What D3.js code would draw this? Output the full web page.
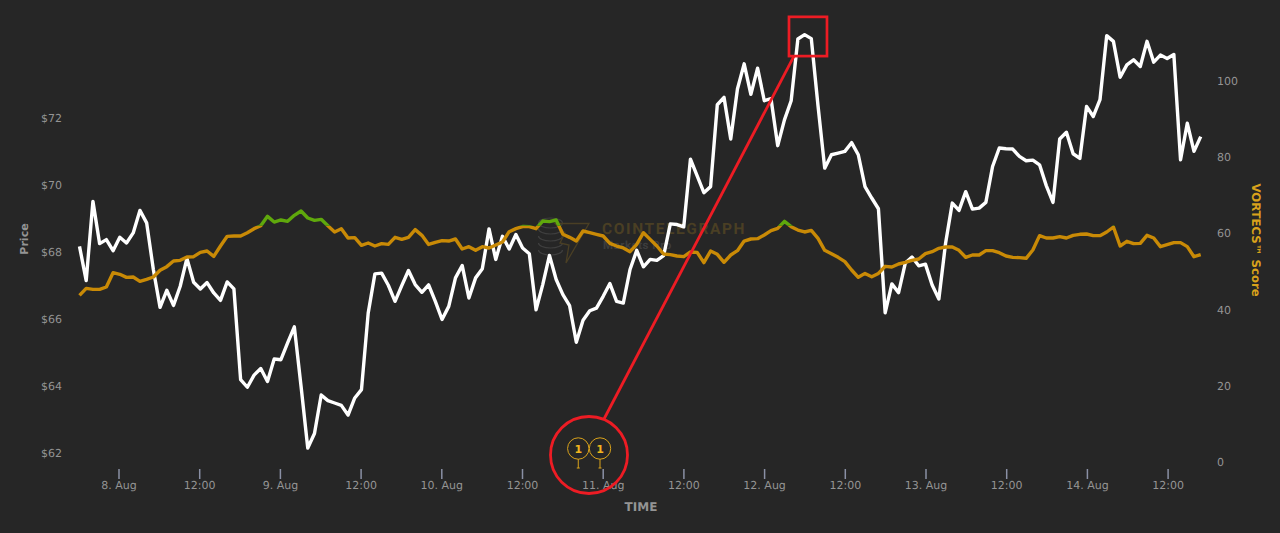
<!DOCTYPE html>
<html><head><meta charset="utf-8">
<script src="https://cdn.jsdelivr.net/npm/d3@7/dist/d3.min.js"></script>
<style>html,body{margin:0;padding:0;background:#262626;overflow:hidden}svg{display:block}svg text{font-family:"DejaVu Sans",sans-serif;text-rendering:geometricPrecision}</style>
</head><body><svg id="c" width="1280" height="533"></svg>
<script>
const priceValues=[68.16,67.14,69.5,68.24,68.36,68.03,68.43,68.26,68.56,69.23,68.86,67.47,66.34,66.85,66.40,66.97,67.80,67.09,66.89,67.08,66.77,66.55,67.10,66.89,64.19,63.96,64.32,64.52,64.13,64.80,64.78,65.28,65.76,63.99,62.15,62.58,63.73,63.56,63.49,63.42,63.13,63.64,63.89,66.17,67.34,67.36,67.0,66.52,66.99,67.44,67.02,66.79,67.01,66.52,65.98,66.37,67.22,67.59,66.62,67.22,67.49,68.68,67.77,68.46,68.08,68.51,68.11,67.94,66.27,67.02,67.89,67.17,66.72,66.39,65.30,65.96,66.24,66.32,66.67,67.05,66.52,66.47,67.47,68.04,67.55,67.77,67.74,67.88,68.83,68.81,68.74,70.76,70.26,69.76,69.94,72.38,72.6,71.36,72.85,73.6,72.69,73.47,72.5,72.56,71.16,71.93,72.5,74.34,74.47,74.35,72.35,70.49,70.89,70.94,70.99,71.25,70.89,69.94,69.6,69.28,66.18,67.04,66.78,67.66,67.84,67.58,67.63,67.01,66.59,68.25,69.45,69.23,69.79,69.27,69.3,69.47,70.54,71.09,71.07,71.06,70.84,70.71,70.73,70.59,69.97,69.47,71.36,71.56,70.92,70.78,72.33,72.03,72.53,74.44,74.27,73.2,73.57,73.72,73.52,74.27,73.65,73.86,73.76,73.88,70.74,71.83,70.99,71.43];
const scoreValues=[43.74,45.58,45.32,45.32,45.93,49.69,49.26,48.47,48.56,47.42,47.94,48.56,50.31,51.27,52.76,52.93,53.81,53.89,55.03,55.38,53.98,56.69,59.23,59.32,59.32,60.19,61.24,62.0,64.48,62.99,63.52,63.17,64.74,65.88,64.04,63.43,63.69,62.0,60.37,61.24,58.79,58.88,56.87,57.48,56.69,57.31,57.13,58.97,58.44,58.97,60.98,59.49,57.1,57.66,58.09,58.0,58.53,55.9,56.52,55.56,56.52,56.17,56.96,57.74,60.45,61.24,61.8,61.77,61.24,63.25,63.08,63.52,59.76,58.97,58.0,60.63,60.19,59.76,59.32,57.39,56.69,56.17,55.2,57.13,60.19,58.44,56.69,54.59,54.42,54.07,53.89,55.12,55.03,52.32,55.38,54.51,52.41,54.33,55.47,58.0,58.53,58.62,59.58,60.72,61.33,63.17,61.77,60.89,60.37,60.8,58.71,55.56,54.68,53.72,52.58,50.39,48.47,49.5,48.64,49.5,51.36,51.18,51.97,52.41,52.93,53.28,54.68,55.21,56.08,56.43,56.43,55.56,53.72,54.33,54.33,55.47,55.47,54.94,54.07,53.72,53.63,53.46,55.64,59.41,58.79,58.79,59.14,58.79,59.49,59.76,59.84,59.41,59.41,60.37,61.68,56.69,57.92,57.31,57.39,59.49,58.79,56.52,57.04,57.57,57.57,56.52,53.89,54.42];
const priceTicks=[62,64,66,68,70,72];
const scoreTicks=[0,20,40,60,80,100];
const timeTicks=["2021-08-08T00:00Z","2021-08-08T12:00Z","2021-08-09T00:00Z","2021-08-09T12:00Z","2021-08-10T00:00Z","2021-08-10T12:00Z","2021-08-11T00:00Z","2021-08-11T12:00Z","2021-08-12T00:00Z","2021-08-12T12:00Z","2021-08-13T00:00Z","2021-08-13T12:00Z","2021-08-14T00:00Z","2021-08-14T12:00Z"].map(d=>new Date(d));
const flagTimes=["2021-08-10T20:22Z","2021-08-10T23:36Z"].map(d=>new Date(d));
const flagLabels=["1","1"];
const startTime=+new Date("2021-08-07T18:12Z");
const stepMinutes=59.9;
const highlightPrice=[73.83,75.0];
const highlightTimes=["2021-08-12T03:42Z","2021-08-12T09:21Z"].map(d=>new Date(d));
const greenThreshold=62;

const svg=d3.select("#c");
const T=i=>new Date(startTime+i*stepMinutes*60000);
const hourPx=161.4/24;
const x=d3.scaleUtc().domain([new Date("2021-08-08T00:00Z"),new Date("2021-08-14T12:00Z")]).range([118.5,118.5+156*hourPx]);
const yP=d3.scaleLinear().domain([62,72]).range([453,117.5]);
const yS=d3.scaleLinear().domain([0,100]).range([462,81]);

// watermark
const wm=svg.append("g");
wm.append("text").attr("x",602).attr("y",234).attr("font-size",15.5).attr("font-weight","bold").style("font-family","Roboto").attr("letter-spacing",1.6).attr("fill","#4a3f24").text("COINTELEGRAPH");
wm.append("text").attr("x",603).attr("y",249).attr("font-size",11.5).attr("font-weight","bold").style("font-family","Roboto").attr("letter-spacing",0.5).attr("fill","#3d3d3d").text("Markets Pro");
[229,236,243,250].forEach(cy=>{
  wm.append("path").attr("d",`M538.5 ${cy} a12 5 0 0 0 24 0`).attr("fill","none").attr("stroke","#3f3f3f").attr("stroke-width",1.2);
});
wm.append("ellipse").attr("cx",550.5).attr("cy",223).attr("rx",12).attr("ry",5).attr("fill","none").attr("stroke","#3f3f3f").attr("stroke-width",1.2);
wm.append("path").attr("d","M555 223.5H589L566 263L569 245L560 243L565 233Z").attr("fill","none").attr("stroke","#4a3f24").attr("stroke-width",1.3);

// axes
const gray="#949494";
const fmtLabel=d=>d.getUTCHours()===12?"12:00":d.getUTCDate()+". Aug";
const xAxis=d3.axisBottom(x).tickValues(timeTicks).tickFormat(fmtLabel).tickSize(10).tickPadding(2);
const gx=svg.append("g").attr("transform","translate(0,469)").call(xAxis);
gx.select(".domain").remove();
gx.selectAll("line").attr("stroke","#8a90a5").attr("stroke-width",1.5);
gx.selectAll("text").attr("fill",gray).attr("font-size",11);
const gl=svg.append("g").attr("transform","translate(62,0)").call(d3.axisLeft(yP).tickValues(priceTicks).tickFormat(d=>"$"+d).tickSize(0).tickPadding(0));
gl.select(".domain").remove();
gl.selectAll("text").attr("fill",gray).attr("font-size",11);
const gr=svg.append("g").attr("transform","translate(1217,0)").call(d3.axisRight(yS).tickValues(scoreTicks).tickSize(0).tickPadding(0));
gr.select(".domain").remove();
gr.selectAll("text").attr("fill",gray).attr("font-size",11);

svg.append("text").attr("transform","translate(27.5,239) rotate(-90)").attr("text-anchor","middle").attr("fill",gray).attr("font-size",11).attr("font-weight","bold").text("Price");
svg.append("text").attr("transform","translate(1252,240) rotate(90)").attr("text-anchor","middle").attr("fill","#d9a21b").attr("font-size",11.7).attr("font-weight","bold").text("VORTECS™ Score");
svg.append("text").attr("x",641).attr("y",511).attr("text-anchor","middle").attr("fill",gray).attr("font-size",12).attr("font-weight","bold").text("TIME");

// lines
const lineP=d3.line().x((d,i)=>x(T(i))).y(d=>yP(d));
const lineS=d3.line().x((d,i)=>x(T(i))).y(d=>yS(d));
const defs=svg.append("defs");
const ty=yS(greenThreshold);
defs.append("clipPath").attr("id","above").append("rect").attr("x",0).attr("y",0).attr("width",1280).attr("height",ty);
defs.append("clipPath").attr("id","below").append("rect").attr("x",0).attr("y",ty).attr("width",1280).attr("height",533-ty);
svg.append("path").attr("d",lineP(priceValues)).attr("fill","none").attr("stroke","#ffffff").attr("stroke-width",3.4).attr("stroke-linejoin","round");
svg.append("path").attr("d",lineS(scoreValues)).attr("fill","none").attr("stroke","#c98a06").attr("stroke-width",3.4).attr("stroke-linejoin","round").attr("clip-path","url(#below)");
svg.append("path").attr("d",lineS(scoreValues)).attr("fill","none").attr("stroke","#5fa80c").attr("stroke-width",3.4).attr("stroke-linejoin","round").attr("clip-path","url(#above)");

// flags
flagTimes.forEach((t,i)=>{
  const g=svg.append("g").attr("transform",`translate(${x(t)},0)`);
  g.append("circle").attr("cy",448.5).attr("r",10.7).attr("fill","none").attr("stroke","#d9a21b").attr("stroke-width",1);
  g.append("text").attr("y",452.5).attr("text-anchor","middle").attr("font-size",11).attr("font-weight","bold").attr("fill","#f0b51e").text(flagLabels[i]);
  g.append("line").attr("y1",459).attr("y2",468).attr("stroke","#d9a21b").attr("stroke-width",1);
  g.append("line").attr("x1",-1.5).attr("x2",1.5).attr("y1",468).attr("y2",468).attr("stroke","#d9a21b").attr("stroke-width",1);
});

// red annotations
const red="#ed1c24";
svg.append("rect").attr("x",x(highlightTimes[0])).attr("y",yP(highlightPrice[1])).attr("width",x(highlightTimes[1])-x(highlightTimes[0])).attr("height",yP(highlightPrice[0])-yP(highlightPrice[1])).attr("fill","none").attr("stroke",red).attr("stroke-width",2.7);
svg.append("line").attr("x1",604).attr("y1",419).attr("x2",x(highlightTimes[0])+5).attr("y2",yP(highlightPrice[0])).attr("stroke",red).attr("stroke-width",2.8);
svg.append("circle").attr("cx",589).attr("cy",455).attr("r",38.5).attr("fill","none").attr("stroke",red).attr("stroke-width",2.8);
</script></body></html>
